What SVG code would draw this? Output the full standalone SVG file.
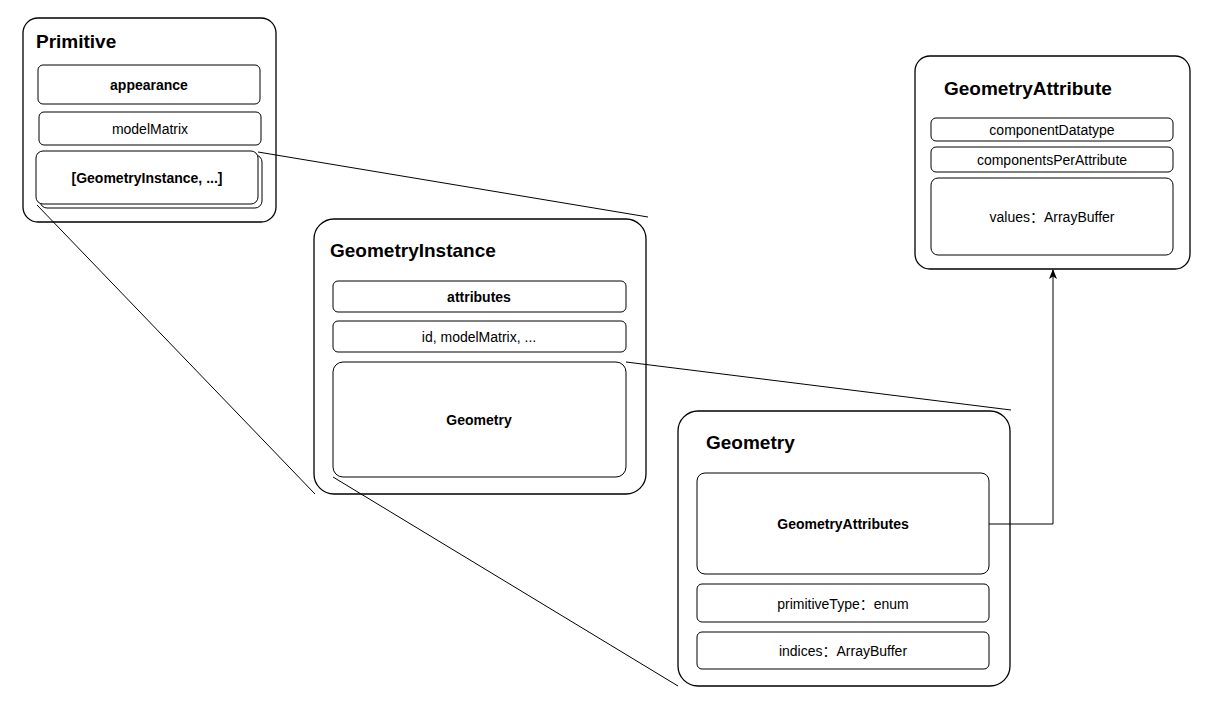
<svg xmlns="http://www.w3.org/2000/svg" width="1215" height="722" viewBox="0 0 1215 722">
<defs>
<style>
.outer{fill:#fff;stroke:#000;stroke-width:1.3}
.inner{fill:#fff;stroke:#000;stroke-width:1}
.t{font-family:"Liberation Sans",Arial,"Noto Sans CJK SC",sans-serif;font-size:14px;fill:#000;text-anchor:middle;dominant-baseline:central}
.b{font-weight:bold}
.title{font-family:"Liberation Sans",Arial,sans-serif;font-size:19px;font-weight:bold;fill:#000}
.ln{fill:none;stroke:#000;stroke-width:1}
</style>
<marker id="arr" viewBox="0 0 10 10" refX="9" refY="5" markerWidth="10" markerHeight="10" markerUnits="userSpaceOnUse" orient="auto">
<path d="M0,1 L10,5 L0,9 L2.5,5 Z" fill="#000"/>
</marker>
</defs>
<rect width="1215" height="722" fill="#fff"/>
<g id="primitive">
<rect class="outer" x="23" y="18" width="253" height="204" rx="15"/>
<text class="title" x="36" y="48">Primitive</text>
<rect class="inner" x="38" y="65" width="222" height="39" rx="5"/>
<text class="t b" x="149" y="85">appearance</text>
<rect class="inner" x="39" y="112" width="222" height="33" rx="5"/>
<text class="t" x="150" y="129">modelMatrix</text>
<rect class="inner" x="40" y="155" width="222" height="53" rx="7"/>
<rect class="inner" x="36" y="151" width="222" height="53" rx="7"/>
<text class="t b" x="147" y="178">[GeometryInstance, ...]</text>
</g>
<g id="geometryInstance">
<rect class="outer" x="314" y="219" width="332" height="275" rx="20"/>
<text class="title" x="330" y="257">GeometryInstance</text>
<rect class="inner" x="333" y="281" width="293" height="31" rx="5"/>
<text class="t b" x="479" y="297">attributes</text>
<rect class="inner" x="333" y="321" width="293" height="31" rx="5"/>
<text class="t" x="479" y="337">id, modelMatrix, ...</text>
<rect class="inner" x="333" y="362" width="293" height="115" rx="10"/>
<text class="t b" x="479" y="420">Geometry</text>
</g>
<g id="geometry">
<rect class="outer" x="678" y="411" width="332" height="275" rx="20"/>
<text class="title" x="706" y="449">Geometry</text>
<rect class="inner" x="697" y="473" width="292" height="101" rx="8"/>
<text class="t b" x="843" y="524">GeometryAttributes</text>
<rect class="inner" x="697" y="584" width="292" height="38" rx="5"/>
<text class="t" x="843" y="604">primitiveType：enum</text>
<rect class="inner" x="697" y="632" width="292" height="37" rx="5"/>
<text class="t" x="843" y="651">indices：ArrayBuffer</text>
</g>
<g id="geometryAttribute">
<rect class="outer" x="915" y="56" width="275" height="213" rx="15"/>
<text class="title" x="944" y="95">GeometryAttribute</text>
<rect class="inner" x="931" y="118" width="242" height="23" rx="5"/>
<text class="t" x="1052" y="130">componentDatatype</text>
<rect class="inner" x="931" y="147" width="242" height="25" rx="5"/>
<text class="t" x="1052" y="160">componentsPerAttribute</text>
<rect class="inner" x="931" y="178" width="242" height="77" rx="7"/>
<text class="t" x="1052" y="217">values：ArrayBuffer</text>
</g>
<g id="connectors">
<line class="ln" x1="258" y1="152" x2="648" y2="217"/>
<line class="ln" x1="37" y1="205" x2="315" y2="494"/>
<line class="ln" x1="626" y1="362" x2="1011" y2="410"/>
<line class="ln" x1="333" y1="477" x2="678" y2="686"/>
<path class="ln" d="M989,524 L1053,524 L1053,270" marker-end="url(#arr)"/>
</g>
</svg>
